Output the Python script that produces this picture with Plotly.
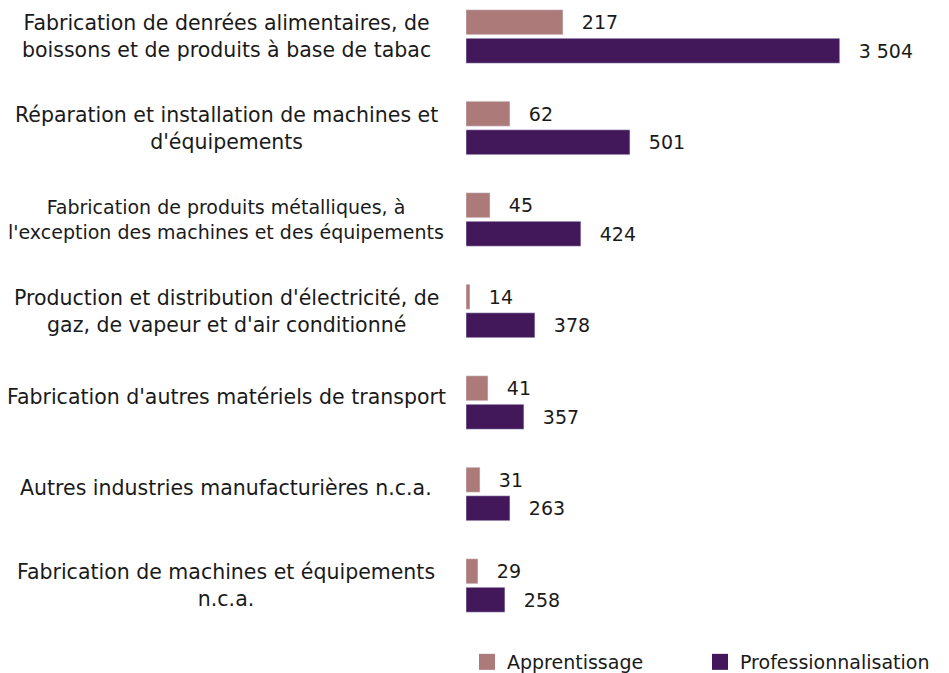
import plotly.graph_objects as go

categories = [
    "Fabrication de denrées alimentaires, de<br>boissons et de produits à base de tabac",
    "Réparation et installation de machines et<br>d'équipements",
    "Fabrication de produits métalliques, à<br>l'exception des machines et des équipements",
    "Production et distribution d'électricité, de<br>gaz, de vapeur et d'air conditionné",
    "Fabrication d'autres matériels de transport",
    "Autres industries manufacturières n.c.a.",
    "Fabrication de machines et équipements<br>n.c.a.",
]

# figures printed next to the bars
apprentissage = [217, 62, 45, 14, 41, 31, 29]
professionnalisation = [3504, 501, 424, 378, 357, 263, 258]

# the source bars are not drawn to scale with their printed figures,
# so their lengths are read off the drawing (same unit as the 3 504 bar)
appr_bar = [909, 412, 225, 37, 206, 131, 112]
prof_bar = [3504, 1537, 1077, 646, 543, 412, 365]

APPR_COLOR = "#AC7A78"
PROF_COLOR = "#42185B"
FONT = "DejaVu Sans"
TXT = "#1a1a1a"
PAD = "\u00a0\u00a0\u2009"


def fmt(v):
    return f"{v:,}".replace(",", "\u00a0")


fig = go.Figure()
for name, bars, vals, color in [
    ("Apprentissage", appr_bar, apprentissage, APPR_COLOR),
    ("Professionnalisation", prof_bar, professionnalisation, PROF_COLOR),
]:
    fig.add_trace(go.Bar(
        y=categories, x=bars, orientation="h", name=name,
        marker_color=color, showlegend=False, legendgroup=name,
        text=[PAD + fmt(v) for v in vals],
        textposition="outside", cliponaxis=False,
        textfont=dict(family=FONT, size=19, color=TXT),
    ))
    # bigger square swatch for the legend
    fig.add_trace(go.Scatter(
        x=[None], y=[None], mode="markers", name=name, legendgroup=name,
        marker=dict(symbol="square", size=16, color=color),
    ))

# category labels, centred lines like the original
for i, cat in enumerate(categories):
    fig.add_annotation(
        x=-0.5, xref="paper", y=cat, yref="y",
        text=cat, showarrow=False, xanchor="center", align="center",
        yshift=0 if "<br>" in cat else 6,
        font=dict(family=FONT, size=19 if i == 2 else 20.5, color=TXT),
    )

# the page adds an 8px body margin, so the figure is a bit smaller than the window
fig.update_layout(
    width=941, height=665,
    margin=dict(l=458, r=3, t=0, b=42),
    paper_bgcolor="white", plot_bgcolor="white",
    barmode="group", bargap=0.377, bargroupgap=0.123,
    font=dict(family=FONT, size=19, color=TXT),
    xaxis=dict(range=[0, 4500], visible=False),
    yaxis=dict(range=[6.497, -0.3115], showticklabels=False, showgrid=False,
               zeroline=False, showline=False, ticks=""),
    legend=dict(orientation="h", xref="container", x=459 / 941, xanchor="left",
                yref="container", y=11 / 665, yanchor="middle",
                font=dict(family=FONT, size=19, color=TXT),
                itemwidth=30, entrywidth=188, traceorder="normal"),
    showlegend=True,
)

fig.write_html("out.html")
